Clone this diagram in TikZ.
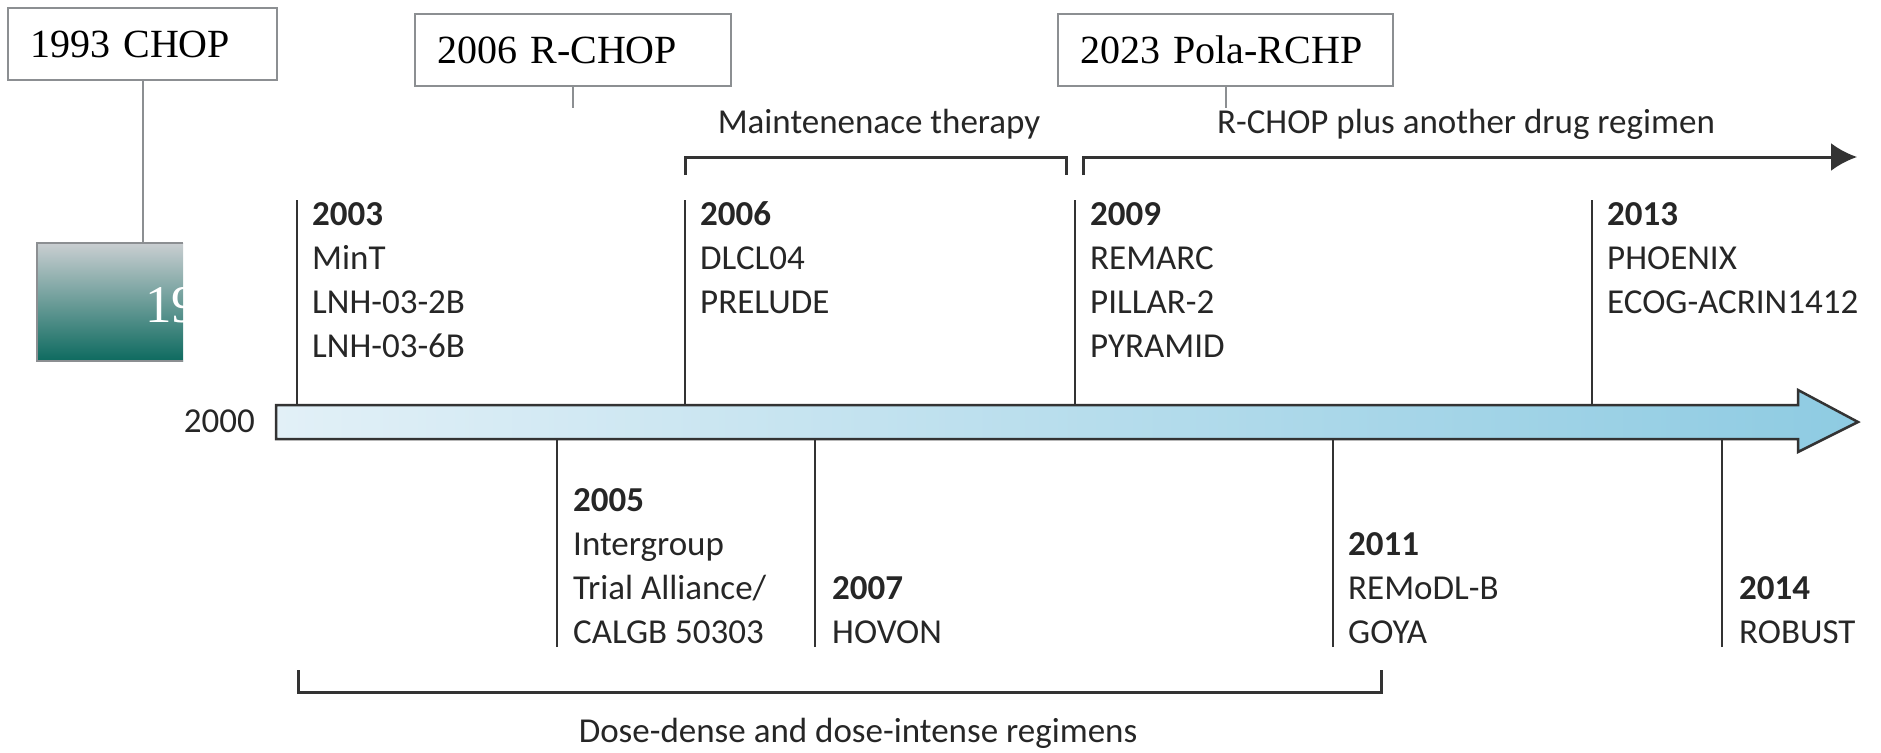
\documentclass[tikz,border=0pt]{standalone}
\usepackage{fontspec}
\setmainfont{Liberation Serif}
\newfontfamily\trialfont{Carlito}
\usetikzlibrary{arrows.meta}

\definecolor{boxgray}{HTML}{8C8F92}
\definecolor{linedark}{HTML}{333333}
\definecolor{barleft}{HTML}{E2F0F7}
\definecolor{barright}{HTML}{8ECBE2}
\definecolor{tealtop}{HTML}{C9CED1}
\definecolor{tealbot}{HTML}{0D6A5F}

\tikzset{
  yearbox/.style={draw=boxgray, line width=2pt, fill=white, anchor=north west,
    inner xsep=22pt, inner ysep=0pt, minimum height=72pt, align=left,
    font=\fontsize{40}{44}\selectfont},
  stemline/.style={draw=boxgray, line width=2pt},
  trial/.style={anchor=base west, align=left, inner sep=0pt, text=black!85,
    font=\trialfont\fontsize{35}{44}\selectfont},
  spanlabel/.style={anchor=base, inner sep=0pt, text=black!85,
    font=\trialfont\fontsize{35}{44}\selectfont},
  tickline/.style={draw=linedark, line width=2.5pt},
  bracketline/.style={draw=linedark, line width=3pt}
}

\begin{document}
\begin{tikzpicture}[x=1pt,y=-1pt]
\useasboundingbox (0,0) rectangle (1881,752);

% regimen boxes
\node[yearbox, text width=225pt] (chop) at (7,7) {1993 CHOP};
\node[yearbox, text width=272pt] (rchop) at (414,13) {2006 R-CHOP};
\node[yearbox, text width=291pt] (pola) at (1057,13) {2023 Pola-RCHP};
\node[anchor=north west, minimum width=146pt, minimum height=118pt, inner sep=0pt,
  top color=tealtop, bottom color=tealbot] (old) at (37,243) {};
\draw[stemline] (old.north east) -- (old.north west) -- (old.south west) -- (old.south east);
\begin{scope}
\clip (old.north west) rectangle (old.south east);
\node[anchor=base west, inner sep=0pt, text=white, font=\fontsize{53}{55}\selectfont] (oldyear) at (145,322) {19};
\end{scope}
\coordinate (rchopend) at ([yshift=-21pt]rchop.south);
\coordinate (polaend) at ([yshift=-21pt]pola.south);
\draw[stemline] (chop.south) -- (chop.south |- old.north);
\draw[stemline] (rchop.south) -- (rchopend);
\draw[stemline] (pola.south) -- (polaend);

% time axis
\shadedraw[left color=barleft, right color=barright, draw=linedark, line width=2.5pt]
  (276,405) -- (1798,405) -- (1798,390) -- (1858,422) -- (1798,452) -- (1798,439) -- (276,439) -- cycle;
\coordinate (axtop) at (0,405);
\coordinate (axbot) at (0,439);
\node[spanlabel, anchor=base east] (start) at (255,432) {2000};

% trials above (node base = last line)
\coordinate (t03) at (297,200);
\coordinate (t06) at (685,200);
\coordinate (t09) at (1075,200);
\coordinate (t13) at (1592,200);
\draw[tickline] (t03) -- (t03 |- axtop);
\draw[tickline] (t06) -- (t06 |- axtop);
\draw[tickline] (t09) -- (t09 |- axtop);
\draw[tickline] (t13) -- (t13 |- axtop);
\node[trial] (y03) at (312,357) {\textbf{2003}\\MinT\\LNH-03-2B\\LNH-03-6B};
\node[trial] (y06) at (700,313) {\textbf{2006}\\DLCL04\\PRELUDE};
\node[trial] (y09) at (1090,357) {\textbf{2009}\\REMARC\\PILLAR-2\\PYRAMID};
\node[trial] (y13) at (1607,313) {\textbf{2013}\\PHOENIX\\ECOG-ACRIN1412};

% trials below
\coordinate (t05) at (557,647);
\coordinate (t07) at (815,647);
\coordinate (t11) at (1333,647);
\coordinate (t14) at (1722,647);
\draw[tickline] (t05) -- (t05 |- axbot);
\draw[tickline] (t07) -- (t07 |- axbot);
\draw[tickline] (t11) -- (t11 |- axbot);
\draw[tickline] (t14) -- (t14 |- axbot);
\node[trial] (y05) at (573,643) {\textbf{2005}\\Intergroup\\Trial Alliance/\\CALGB 50303};
\node[trial] (y07) at (832,643) {\textbf{2007}\\HOVON};
\node[trial] (y11) at (1348,643) {\textbf{2011}\\REMoDL-B\\GOYA};
\node[trial] (y14) at (1739,643) {\textbf{2014}\\ROBUST};

% therapy spans
\coordinate (mt0) at (685,175);
\coordinate (mt1) at (1066,175);
\draw[bracketline] (mt0) -- ++(0,-18) -| (mt1);
\node[spanlabel] (maint) at (879,133) {Maintenenace therapy};
\coordinate (rc0) at (1083,175);
\coordinate (rc1) at (1857,157);
\draw[bracketline, -{Latex[length=26pt,width=28pt]}] (rc0) -- ++(0,-18) -- (rc1);
\node[spanlabel] (plus) at (1466,133) {R-CHOP plus another drug regimen};
\coordinate (dd0) at (298,670);
\coordinate (dd1) at (1381,670);
\draw[bracketline] (dd0) -- ++(0,22) -| (dd1);
\node[spanlabel] (dose) at (858,742) {Dose-dense and dose-intense regimens};
\end{tikzpicture}
\end{document}
